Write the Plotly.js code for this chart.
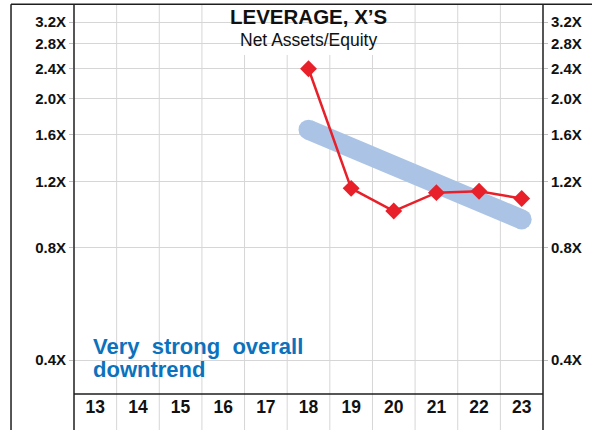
<!DOCTYPE html>
<html>
<head>
<meta charset="utf-8">
<script src="https://cdn.plot.ly/plotly-3.0.1.min.js"></script>
<style>html,body{margin:0;padding:0;background:#fff;}#chart{width:592px;height:430px;}</style>
</head>
<body>
<div id="chart"></div>
<script>
// ---- data ----
const categories = [13, 14, 15, 16, 17, 18, 19, 20, 21, 22, 23];
const leverageYears = [18, 19, 20, 21, 22, 23];
const leverageValues = [2.40, 1.15, 1.00, 1.12, 1.13, 1.08];
const trendYears = [18, 23];
const trendValues = [1.65, 0.95];
const yTickVals = [0.4, 0.8, 1.2, 1.6, 2.0, 2.4, 2.8, 3.2];
const yTickText = ['0.4X', '0.8X', '1.2X', '1.6X', '2.0X', '2.4X', '2.8X', '3.2X'];
const titleText = 'LEVERAGE, X\u2019S';
const subtitleText = 'Net Assets/Equity';
const noteLine1 = 'Very\u00A0 strong\u00A0 overall';
const noteLine2 = 'downtrend';

// ---- styling / layout ----
const FONT = 'Liberation Sans, Arial, Helvetica, sans-serif';
const xMin = categories[0] - 0.5, xMax = categories[categories.length - 1] + 0.5;
const yRange = [-0.4888, 0.5506];
const toPaperX = v => (v - xMin) / (xMax - xMin);
const BOTTOM = -0.0925;   // paper y of window bottom
const LINE = '#1e1e1e';

const shapes = [];
categories.slice(0, -1).forEach(c => {
  const px = toPaperX(c + 0.5);
  shapes.push({type: 'line', xref: 'paper', yref: 'paper', x0: px, x1: px, y0: BOTTOM, y1: 1,
    line: {color: '#d6d6d6', width: 1}, layer: 'between'});
});
// title box
shapes.push({type: 'rect', xref: 'paper', yref: 'paper', x0: 0.2857, x1: 0.7143, y0: 0.8715, y1: 1.0,
  fillcolor: '#ffffff', line: {width: 0}, layer: 'between'});
// frame lines
shapes.push({type: 'line', xref: 'paper', yref: 'paper', x0: 0, x1: 1, y0: 0, y1: 0, line: {color: LINE, width: 1.5}, layer: 'above'});
shapes.push({type: 'line', xref: 'paper', yref: 'paper', x0: 0, x1: 0, y0: BOTTOM, y1: 1, line: {color: LINE, width: 1.5}, layer: 'above'});
shapes.push({type: 'line', xref: 'paper', yref: 'paper', x0: 1, x1: 1, y0: BOTTOM, y1: 1, line: {color: LINE, width: 1.5}, layer: 'above'});
shapes.push({type: 'line', xref: 'paper', yref: 'paper', x0: -0.1343, x1: 1.11, y0: 1.002, y1: 1.002, line: {color: LINE, width: 1.5}, layer: 'above'});
shapes.push({type: 'line', xref: 'paper', yref: 'paper', x0: -0.1343, x1: -0.1343, y0: BOTTOM, y1: 1.002, line: {color: LINE, width: 1.5}, layer: 'above'});

const yAxisBase = {
  type: 'log', range: yRange, fixedrange: true,
  tickmode: 'array', tickvals: yTickVals, ticktext: yTickText,
  ticks: 'outside', ticklen: 4, tickcolor: '#bdbdbd', tickwidth: 1,
  tickfont: {family: FONT, size: 15, color: '#111', weight: 'bold'},
  showline: false, zeroline: false
};

const traces = [
  {x: trendYears, y: trendValues, type: 'scatter', mode: 'lines+markers', yaxis: 'y',
   line: {color: '#abc4e5', width: 20}, marker: {color: '#abc4e5', size: 20, symbol: 'circle'},
   hoverinfo: 'skip'},
  {x: leverageYears, y: leverageValues, type: 'scatter', mode: 'lines+markers', yaxis: 'y2',
   line: {color: '#e8202a', width: 2.5}, marker: {color: '#e8202a', size: 13, symbol: 'diamond'},
   hoverinfo: 'skip'}
];

const TITLE_SPLIT = 0.9375;  // paper y where title block meets subtitle block

const layout = {
  width: 592, height: 430,
  margin: {l: 74, r: 49, t: 5, b: 36, pad: 0},
  paper_bgcolor: '#ffffff', plot_bgcolor: '#ffffff',
  showlegend: false,
  font: {family: FONT, color: '#111'},
  xaxis: {
    range: [xMin, xMax], fixedrange: true,
    tickmode: 'array', tickvals: categories, ticktext: categories.map(String),
    ticks: '', showgrid: false, zeroline: false, showline: false,
    tickfont: {family: FONT, size: 17.5, color: '#111', weight: 'bold'}
  },
  yaxis: Object.assign({}, yAxisBase, {side: 'left', showgrid: true, gridcolor: '#d6d6d6', gridwidth: 1}),
  yaxis2: Object.assign({}, yAxisBase, {side: 'right', overlaying: 'y', showgrid: false}),
  shapes: shapes,
  annotations: [
    {text: '<b>' + titleText + '</b>', xref: 'paper', yref: 'paper', x: 0.5, y: TITLE_SPLIT,
     xanchor: 'center', yanchor: 'bottom', showarrow: false, borderpad: 0,
     font: {family: FONT, size: 20.5, color: '#111'}},
    {text: subtitleText, xref: 'paper', yref: 'paper', x: 0.5, y: TITLE_SPLIT,
     xanchor: 'center', yanchor: 'top', showarrow: false, borderpad: 0,
     font: {family: FONT, size: 17.5, color: '#111'}},
    {text: '<b>' + noteLine1 + '</b>', xref: 'paper', yref: 'paper', x: 0.036, y: 0.1226,
     xanchor: 'left', yanchor: 'middle', showarrow: false,
     font: {family: FONT, size: 22, color: '#0b72bd'}},
    {text: '<b>' + noteLine2 + '</b>', xref: 'paper', yref: 'paper', x: 0.036, y: 0.0638,
     xanchor: 'left', yanchor: 'middle', showarrow: false,
     font: {family: FONT, size: 22, color: '#0b72bd'}}
  ]
};

Plotly.newPlot('chart', traces, layout, {displayModeBar: false, staticPlot: true});
</script>
</body>
</html>
